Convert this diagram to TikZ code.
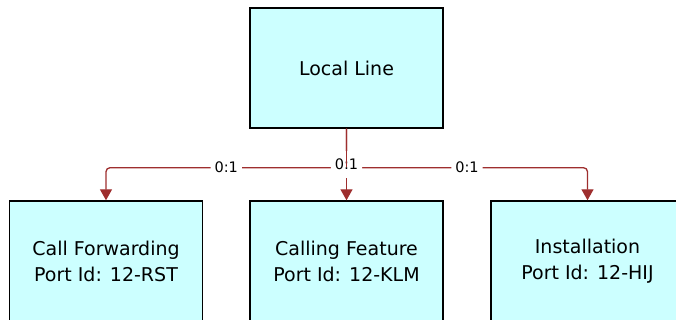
\documentclass[tikz,border=0pt]{standalone}
\usepackage{fontspec}
\setmainfont{DejaVu Sans}
\usetikzlibrary{arrows.meta}

\definecolor{boxcyan}{RGB}{204,255,255}
\definecolor{linkred}{RGB}{158,46,46}

\newcommand*{\boxw}{193}
\newcommand*{\boxh}{120}

\begin{document}
\begin{tikzpicture}
[
	x=1pt,
	y=-1pt,
	entity/.style={draw=black,line width=1.4pt,fill=boxcyan,minimum width=\boxw pt,minimum height=\boxh pt,inner sep=0pt,align=center,font=\fontsize{19}{26}\selectfont},
	link/.style={draw=linkred,line width=1.3pt,rounded corners=4pt,-{Triangle[width=12pt,length=11pt,fill=linkred]}},
	card/.style={fill=white,inner xsep=4pt,inner ysep=8pt,font=\fontsize{14.5}{14.5}\selectfont}
]

	% frame
	\useasboundingbox (0,0) rectangle (676,320);
	\clip (0,0) rectangle (676,320);

	% entities
	\node[entity] (local) at (346.5,68) {Local Line};
	\node[entity] (callfwd) at (106,261) {Call Forwarding\\Port Id: 12-RST};
	\node[entity] (callfeat) at (346.5,261) {Calling Feature\\Port Id: 12-KLM};
	\node[entity] (install) at (587.5,261) {Installation\\Port Id: 12-HIJ};

	% relations
	\draw[link] (local.south) -- ++(0,39) -| node[card,pos=0.25] {0:1} (callfwd.north);
	\draw[link] (local.south) -- ++(0,39) -| node[card,pos=0.25] {0:1} (install.north);
	\draw[link] (local.south) -- node[card] {0:1} (callfeat.north);
	\draw[link,-] (local.south) -- ++(0,38);

\end{tikzpicture}
\end{document}
